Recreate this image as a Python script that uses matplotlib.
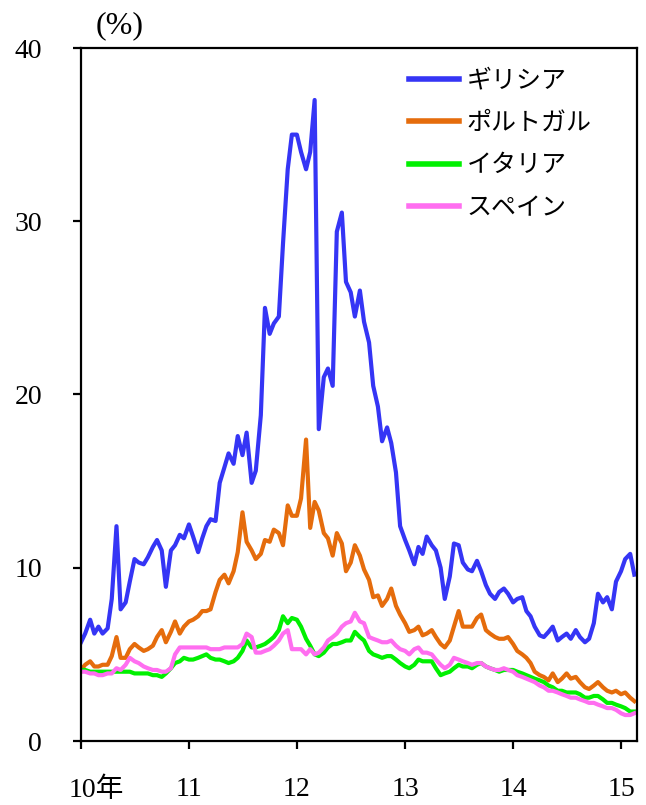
import numpy as np
import pandas as pd
import matplotlib
matplotlib.use("Agg")
import matplotlib.pyplot as plt
import matplotlib.dates as mdates
from matplotlib.transforms import ScaledTranslation

plt.rcParams["font.family"] = ["Liberation Serif", "Noto Sans CJK JP"]

# semi-monthly readings (1st and 15th), Jan 2010 - mid Feb 2015, yields in %
dates = pd.date_range("2010-01-01", "2015-02-15", freq="SMS")

greece = [
    # 2010
    5.7, 6.2, 7.0, 6.2, 6.6, 6.2, 6.5, 8.2, 12.4, 7.6, 8.0, 9.2,
    10.5, 10.3, 10.2, 10.6, 11.2, 11.6, 11.0, 8.9, 11.0, 11.3, 11.9, 11.7,
    # 2011
    12.5, 11.8, 10.9, 11.7, 12.4, 12.8, 12.7, 14.9, 15.8, 16.6, 16.0, 17.6,
    16.5, 17.8, 14.9, 15.6, 18.8, 25.0, 23.5, 24.1, 24.5, 28.7, 33.0, 35.0,
    # 2012
    35.0, 34.0, 33.0, 34.0, 37.0, 18.0, 21.0, 21.5, 20.5, 29.4, 30.5, 26.5,
    25.9, 24.5, 26.0, 24.2, 23.0, 20.5, 19.3, 17.3, 18.1, 17.2, 15.5, 12.4,
    # 2013
    11.6, 11.0, 10.2, 11.2, 10.8, 11.8, 11.3, 11.0, 10.0, 8.2, 9.5, 11.4,
    11.3, 10.3, 9.9, 9.8, 10.4, 9.8, 9.0, 8.5, 8.2, 8.6, 8.8, 8.5,
    # 2014
    8.0, 8.2, 8.3, 7.5, 7.2, 6.6, 6.1, 6.0, 6.3, 6.6, 5.8, 6.0,
    6.2, 5.9, 6.4, 6.0, 5.7, 5.9, 6.8, 8.5, 8.0, 8.3, 7.6, 9.2,
    # 2015
    9.8, 10.5, 10.8, 9.6,
]

portugal = [
    4.1, 4.4, 4.6, 4.3, 4.3, 4.4, 4.4, 4.9, 6.0, 4.8, 4.8, 5.3,
    5.6, 5.4, 5.2, 5.3, 5.5, 6.0, 6.4, 5.7, 6.3, 6.9, 6.2, 6.6,
    6.9, 7.0, 7.2, 7.5, 7.5, 7.6, 8.6, 9.3, 9.6, 9.1, 9.8, 10.9,
    13.2, 11.5, 11.0, 10.5, 10.8, 11.6, 11.5, 12.2, 12.0, 11.3, 13.6, 13.0,
    13.0, 14.0, 17.4, 12.3, 13.8, 13.3, 12.0, 11.7, 10.7, 12.0, 11.4, 9.8,
    10.3, 11.3, 10.7, 9.9, 9.3, 8.3, 8.4, 7.8, 8.2, 8.8, 7.8, 7.3,
    6.8, 6.3, 6.4, 6.6, 6.1, 6.2, 6.4, 6.0, 5.6, 5.4, 5.8, 6.6,
    7.5, 6.6, 6.6, 6.6, 7.1, 7.3, 6.4, 6.2, 6.0, 5.9, 5.9, 6.0,
    5.6, 5.2, 5.0, 4.8, 4.5, 4.0, 3.8, 3.7, 3.5, 3.9, 3.4, 3.6,
    3.9, 3.6, 3.7, 3.4, 3.1, 3.0, 3.2, 3.4, 3.1, 2.9, 2.8, 2.9,
    2.7, 2.8, 2.5, 2.3,
]

italy = [
    4.1, 4.1, 4.0, 4.0, 4.0, 4.0, 4.0, 4.0, 4.0, 4.0, 4.0, 4.0,
    3.9, 3.9, 3.9, 3.9, 3.8, 3.8, 3.7, 3.9, 4.2, 4.5, 4.6, 4.8,
    4.7, 4.7, 4.8, 4.9, 5.0, 4.8, 4.7, 4.7, 4.6, 4.5, 4.6, 4.8,
    5.2, 5.8, 5.4, 5.4, 5.5, 5.6, 5.8, 6.0, 6.4, 7.2, 6.8, 7.1,
    7.0, 6.6, 5.9, 5.5, 5.0, 4.9, 5.1, 5.4, 5.6, 5.6, 5.7, 5.8,
    5.8, 6.3, 6.0, 5.8, 5.2, 5.0, 4.9, 4.8, 4.9, 4.9, 4.7, 4.5,
    4.3, 4.2, 4.4, 4.7, 4.6, 4.6, 4.6, 4.2, 3.8, 3.9, 4.0, 4.2,
    4.4, 4.3, 4.3, 4.2, 4.4, 4.5, 4.3, 4.2, 4.1, 4.0, 4.1, 4.1,
    4.1, 4.0, 3.9, 3.8, 3.7, 3.6, 3.5, 3.4, 3.2, 3.1, 2.9, 2.9,
    2.8, 2.8, 2.8, 2.7, 2.5, 2.5, 2.6, 2.6, 2.4, 2.2, 2.2, 2.1,
    2.0, 1.9, 1.7, 1.7,
]

spain = [
    4.0, 4.0, 3.9, 3.9, 3.8, 3.8, 3.9, 3.9, 4.2, 4.1, 4.4, 4.8,
    4.6, 4.5, 4.3, 4.2, 4.1, 4.1, 4.0, 4.0, 4.2, 5.0, 5.4, 5.4,
    5.4, 5.4, 5.4, 5.4, 5.4, 5.3, 5.3, 5.3, 5.4, 5.4, 5.4, 5.4,
    5.6, 6.2, 6.0, 5.1, 5.1, 5.2, 5.3, 5.5, 5.8, 6.2, 6.4, 5.3,
    5.3, 5.3, 5.0, 5.3, 5.0, 5.1, 5.4, 5.8, 6.0, 6.2, 6.6, 6.8,
    6.9, 7.4, 6.9, 6.8, 6.0, 5.9, 5.8, 5.7, 5.7, 5.8, 5.5, 5.3,
    5.2, 5.0, 5.3, 5.4, 5.1, 5.1, 5.0, 4.7, 4.4, 4.2, 4.4, 4.8,
    4.7, 4.6, 4.5, 4.4, 4.5, 4.5, 4.3, 4.2, 4.1, 4.1, 4.2, 4.1,
    4.0, 3.8, 3.7, 3.6, 3.5, 3.4, 3.2, 3.1, 2.9, 2.9, 2.8, 2.7,
    2.6, 2.5, 2.5, 2.4, 2.3, 2.2, 2.2, 2.1, 2.0, 1.9, 1.9, 1.8,
    1.6, 1.5, 1.5, 1.6,
]

names = ["ギリシア", "ポルトガル", "イタリア", "スペイン"]
colors = ["#3535F5", "#E56C0C", "#00F000", "#FF6EF0"]
year_ticks = pd.to_datetime(["2010-01-01", "2011-01-01", "2012-01-01",
                             "2013-01-01", "2014-01-01", "2015-01-01"])
year_labels = ["10年", "11", "12", "13", "14", "15"]

fig = plt.figure(figsize=(6.46, 8.05), dpi=100)
ax = fig.add_axes([81 / 646, 64 / 805, 556 / 646, 693 / 805])

for vals, name, col in zip([greece, portugal, italy, spain], names, colors):
    assert len(vals) == len(dates)
    ax.plot(dates, vals, color=col, lw=3.0, label=name, solid_joinstyle="round")

ax.set_ylim(0, 40)
ax.set_yticks([0, 10, 20, 30, 40])
ax.set_xlim(pd.Timestamp("2010-01-01"), pd.Timestamp("2015-02-24"))
ax.set_xticks(year_ticks)
ax.set_xticklabels(year_labels)

for sp in ax.spines.values():
    sp.set_linewidth(1.6)
ax.tick_params(direction="out", length=6, width=1.6, labelsize=20)
ax.tick_params(axis="y", pad=22)
ax.tick_params(axis="x", pad=20)

# the "年" hangs right of the first year label
lab0 = ax.get_xticklabels()[0]
lab0.set_transform(lab0.get_transform() + ScaledTranslation(0.15, 0, fig.dpi_scale_trans))

fig.text(120 / 646, 1 - 26 / 805, "(%)", fontsize=23, ha="center", va="center")

leg = ax.legend(loc="upper left", bbox_to_anchor=(0.59, 0.969), frameon=False,
                fontsize=18, handlelength=2.0, handletextpad=0.3,
                labelspacing=0.8, borderpad=0, borderaxespad=0)
for h in leg.get_lines():
    h.set_linewidth(4)

fig.savefig("out.png", dpi=100)
